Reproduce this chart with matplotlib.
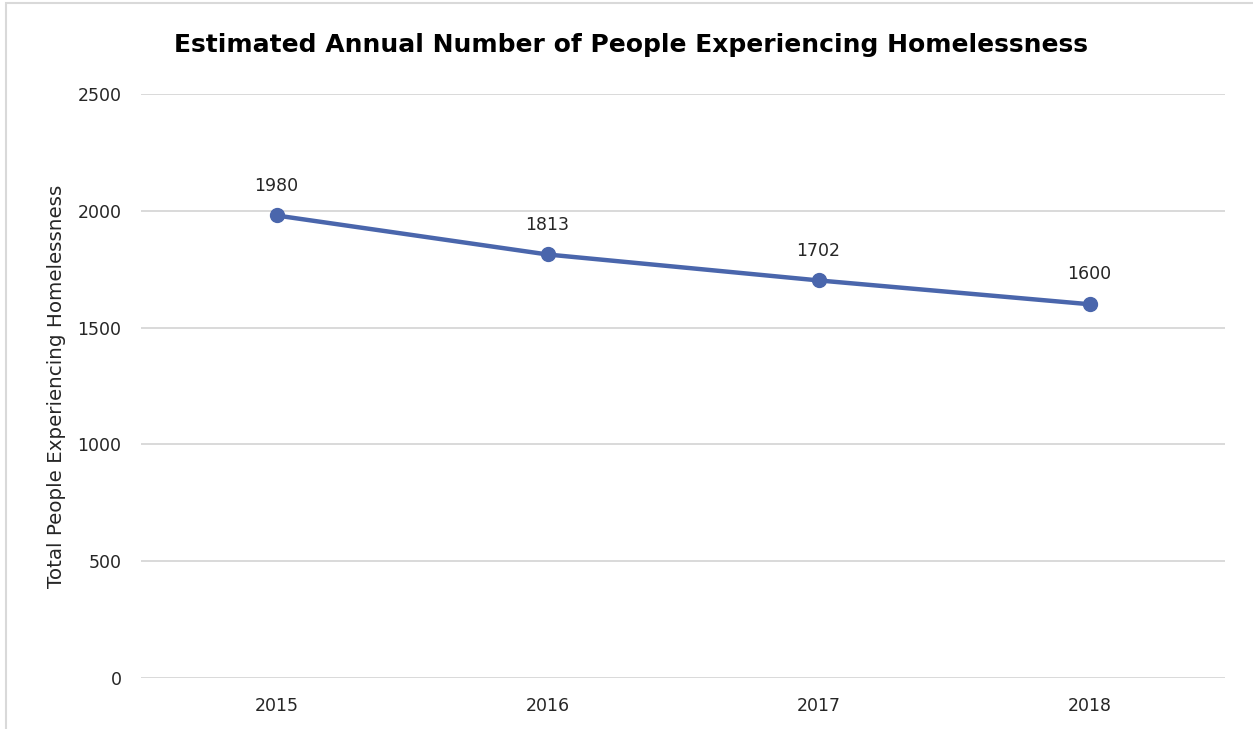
import matplotlib.pyplot as plt
from matplotlib.patches import Rectangle

years = ['2015', '2016', '2017', '2018']
people = [1980, 1813, 1702, 1600]
y_ticks = [0, 500, 1000, 1500, 2000, 2500]

plt.rcParams['font.family'] = ['DejaVu Sans']

fig = plt.figure(figsize=(12.53, 7.29), dpi=100)
ax = fig.add_axes([141 / 1253, 51 / 729, 1084 / 1253, 584 / 729])

# chart frame (cropped at right/bottom)
fig.patches.append(Rectangle((6 / 1253, -0.1), 1.2, 0.1 + 726 / 729,
                             transform=fig.transFigure, fill=False,
                             edgecolor='#d9d9d9', linewidth=1.5))

x = list(range(len(years)))
ax.plot(x, people, color='#4a66ac', linewidth=3.2, marker='o', markersize=10,
        solid_capstyle='round', zorder=3)
for xi, v in zip(x, people):
    ax.annotate(str(v), (xi, v), xytext=(0, 15), textcoords='offset points',
                ha='center', va='bottom', fontsize=12.5, color='#262626')

ax.set_xlim(-0.5, 3.5)
ax.set_ylim(0, 2500)
ax.set_xticks(x)
ax.set_xticklabels(years)
ax.set_yticks(y_ticks)
ax.tick_params(length=0, labelsize=12.5, colors='#262626')
ax.tick_params(axis='x', pad=14)
ax.tick_params(axis='y', pad=14)
ax.grid(axis='y', color='#d9d9d9', linewidth=1.4)
ax.set_axisbelow(True)
for s in ax.spines.values():
    s.set_visible(False)

ax.set_ylabel('Total People Experiencing Homelessness', fontsize=14.3,
              color='#262626', labelpad=8)
fig.text(631 / 1253, 1 - 45 / 729, 'Estimated Annual Number of People Experiencing Homelessness',
         ha='center', va='center', fontsize=18, fontweight='bold', color='black')

fig.savefig('out.png', dpi=100)
